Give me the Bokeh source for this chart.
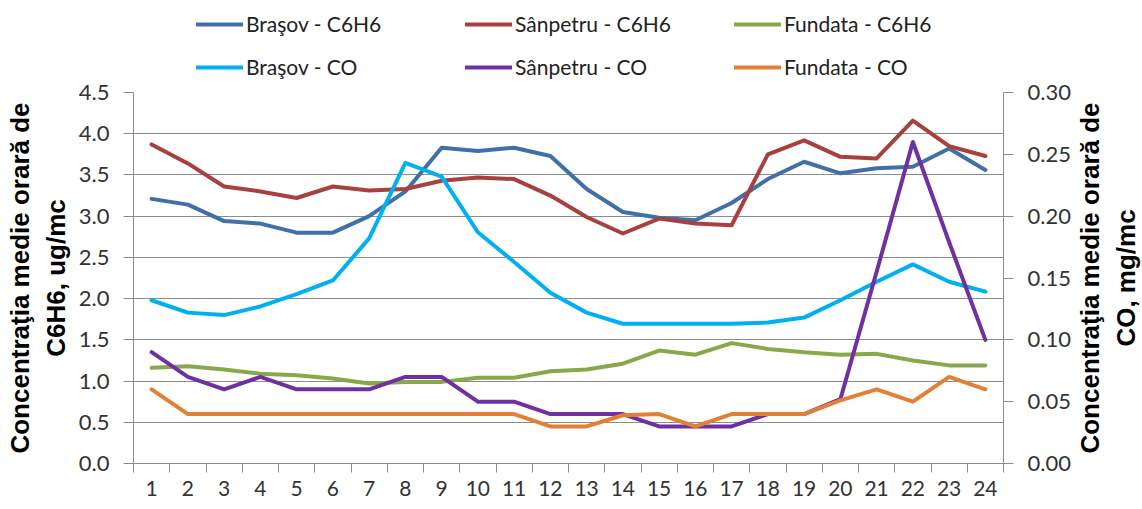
from bokeh.plotting import figure
from bokeh.layouts import column, row
from bokeh.models import (Range1d, LinearAxis, FixedTicker, Legend, LegendItem,
                          ColumnDataSource, NumeralTickFormatter)
from bokeh.embed import file_html
from bokeh.resources import INLINE

hours = list(range(1, 25))

brasov_c6h6 = [3.21, 3.14, 2.94, 2.91, 2.80, 2.80, 3.00, 3.30, 3.83, 3.79, 3.83, 3.73,
               3.33, 3.05, 2.98, 2.95, 3.16, 3.45, 3.66, 3.52, 3.58, 3.60, 3.82, 3.56]
sanpetru_c6h6 = [3.87, 3.64, 3.36, 3.30, 3.22, 3.36, 3.31, 3.33, 3.43, 3.47, 3.45, 3.25,
                 2.99, 2.79, 2.97, 2.91, 2.89, 3.75, 3.92, 3.72, 3.70, 4.16, 3.85, 3.73]
fundata_c6h6 = [1.16, 1.18, 1.14, 1.09, 1.07, 1.03, 0.97, 0.99, 0.99, 1.04, 1.04, 1.12,
                1.14, 1.21, 1.37, 1.32, 1.46, 1.39, 1.35, 1.32, 1.33, 1.25, 1.19, 1.19]
brasov_co = [0.132, 0.122, 0.120, 0.127, 0.137, 0.148, 0.182, 0.243, 0.232, 0.187, 0.163, 0.138,
             0.122, 0.113, 0.113, 0.113, 0.113, 0.114, 0.118, 0.132, 0.147, 0.161, 0.147, 0.139]
sanpetru_co = [0.090, 0.070, 0.060, 0.070, 0.060, 0.060, 0.060, 0.070, 0.070, 0.050, 0.050, 0.040,
               0.040, 0.040, 0.030, 0.030, 0.030, 0.040, 0.040, 0.052, 0.155, 0.260, 0.179, 0.100]
fundata_co = [0.060, 0.040, 0.040, 0.040, 0.040, 0.040, 0.040, 0.040, 0.040, 0.040, 0.040, 0.030,
              0.030, 0.039, 0.040, 0.030, 0.040, 0.040, 0.040, 0.051, 0.060, 0.050, 0.070, 0.060]

left_ticks = [0.0, 0.5, 1.0, 1.5, 2.0, 2.5, 3.0, 3.5, 4.0, 4.5]
right_ticks = [0.00, 0.05, 0.10, 0.15, 0.20, 0.25, 0.30]

series_labels = ["Braşov - C6H6", "Sânpetru - C6H6", "Fundata - C6H6",
                 "Braşov - CO", "Sânpetru - CO", "Fundata - CO"]
series_values = [brasov_c6h6, sanpetru_c6h6, fundata_c6h6, brasov_co, sanpetru_co, fundata_co]
series_colors = ["#4170A8", "#A8413E", "#88A84A", "#00B0F0", "#7030A0", "#E38035"]
series_ranges = ["default", "default", "default", "co", "co", "co"]

left_title = "Concentraţia medie orară de\nC6H6, ug/mc"
right_title = "Concentraţia medie orară de\nCO, mg/mc"

GRID = "#8C8C8C"
TICKFONT = "Lato"
TITLEFONT = "Liberation Sans"
W_MAIN = 1076
W_TITLE = 64
LEG_H = 79
TOTAL_H = 506
FRAME_TOP = 92
FRAME_BOTTOM = 463


def style_title(ax):
    ax.axis_label_text_font = TITLEFONT
    ax.axis_label_text_font_style = "bold"
    ax.axis_label_text_font_size = "26px"
    ax.axis_label_text_line_height = 1.2
    ax.axis_label_text_color = "#000000"


# ---------------- main chart ----------------
p = figure(width=W_MAIN, height=TOTAL_H - LEG_H, output_backend="svg", toolbar_location=None,
           x_range=Range1d(0.5, 24.5), y_range=Range1d(0, 4.5),
           min_border_left=133, min_border_right=W_MAIN - 1003,
           min_border_top=FRAME_TOP - LEG_H, min_border_bottom=TOTAL_H - FRAME_BOTTOM,
           y_axis_location=None, x_axis_location=None)
p.outline_line_color = None
p.extra_y_ranges = {"co": Range1d(0, 0.30)}

xax = LinearAxis(ticker=FixedTicker(ticks=hours, minor_ticks=[h - 0.5 for h in hours] + [24.5]))
xax.axis_line_color = GRID
xax.major_tick_line_color = None
xax.minor_tick_line_color = GRID
xax.minor_tick_out = 9
xax.minor_tick_in = 0
xax.major_label_standoff = 8
xax.major_label_text_font = TICKFONT
xax.major_label_text_font_size = "21px"
xax.major_label_text_color = "#333333"
p.add_layout(xax, "below")

lax = LinearAxis(ticker=FixedTicker(ticks=left_ticks),
                 formatter=NumeralTickFormatter(format="0.0"))
lax.axis_line_color = GRID
lax.major_tick_line_color = GRID
lax.major_tick_out = 10
lax.major_tick_in = 0
lax.minor_tick_line_color = None
lax.major_label_standoff = 14
lax.major_label_text_font = TICKFONT
lax.major_label_text_font_size = "22px"
lax.major_label_text_color = "#333333"
lax.axis_label = left_title
style_title(lax)
lax.axis_label_standoff = 5
p.add_layout(lax, "left")

rax = LinearAxis(y_range_name="co", ticker=FixedTicker(ticks=right_ticks),
                 formatter=NumeralTickFormatter(format="0.00"))
rax.axis_line_color = GRID
rax.major_tick_line_color = GRID
rax.major_tick_out = 10
rax.major_tick_in = 0
rax.minor_tick_line_color = None
rax.major_label_standoff = 14
rax.major_label_text_font = TICKFONT
rax.major_label_text_font_size = "22px"
rax.major_label_text_color = "#333333"
p.add_layout(rax, "right")

p.xgrid.visible = False
p.ygrid.ticker = FixedTicker(ticks=left_ticks)
p.ygrid.grid_line_color = GRID
p.ygrid.grid_line_width = 1

# ---------------- legend strip ----------------
lg = figure(width=W_MAIN, height=LEG_H, output_backend="svg", toolbar_location=None,
            x_range=Range1d(0.5, 24.5), y_range=Range1d(100, 101),
            min_border=0, y_axis_location=None, x_axis_location=None)
lg.outline_line_color = None
lg.xgrid.visible = False
lg.ygrid.visible = False

items = []
for label, vals, color, rng in zip(series_labels, series_values, series_colors, series_ranges):
    src = ColumnDataSource(dict(x=hours, y=vals))
    p.line("x", "y", source=src, line_color=color, line_width=4,
           line_join="round", line_cap="round", y_range_name=rng)
    # same series, out of view in the legend strip: only its legend swatch shows
    r = lg.line("x", "y", source=src, line_color=color, line_width=4, line_cap="round")
    items.append(LegendItem(label=label, renderers=[r]))

legend = Legend(items=items, ncols=3, orientation="horizontal", location=(63, 0),
                glyph_width=47, glyph_height=22, label_standoff=3, label_width=201,
                label_height=22, spacing=18, padding=0, margin=0,
                border_line_color=None, background_fill_alpha=0,
                label_text_font=TICKFONT, label_text_font_size="21px",
                label_text_color="#222222")
lg.add_layout(legend, "center")

# ---------------- right title strip (reads bottom-to-top like the reference) ----------------
tf = figure(width=W_TITLE, height=TOTAL_H, output_backend="svg", toolbar_location=None,
            x_range=Range1d(0, 1), y_range=Range1d(0, 0.30),
            min_border_left=0, min_border_right=0, min_border_top=FRAME_TOP,
            min_border_bottom=TOTAL_H - FRAME_BOTTOM, y_axis_location=None, x_axis_location=None)
tf.outline_line_color = None
tf.xgrid.visible = False
tf.ygrid.visible = False
tax = LinearAxis(ticker=FixedTicker(ticks=[]))
tax.axis_line_color = None
tax.major_tick_line_color = None
tax.minor_tick_line_color = None
tax.major_tick_out = 0
tax.minor_tick_out = 0
tax.major_label_standoff = 0
tax.axis_label = right_title
style_title(tax)
tax.axis_label_standoff = 0
tf.add_layout(tax, "left")

layout = row(column(lg, p, spacing=0), tf, spacing=0)
open("out.html", "w").write(file_html(layout, INLINE))
